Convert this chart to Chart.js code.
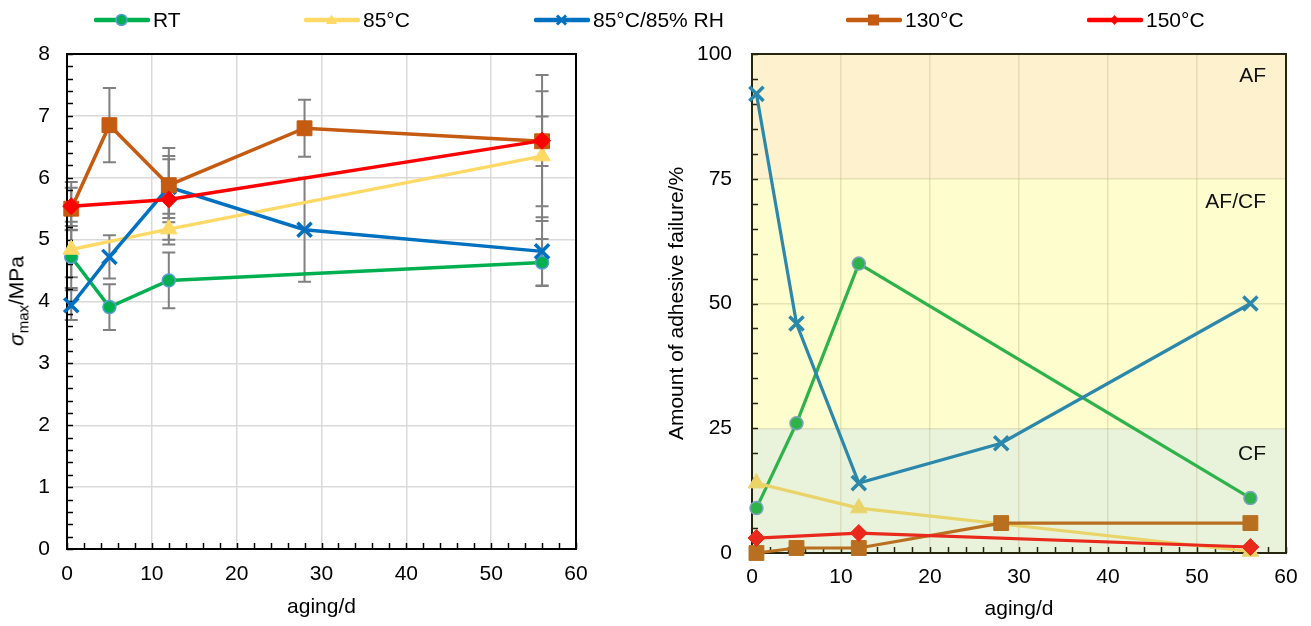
<!DOCTYPE html>
<html><head><meta charset="utf-8">
<script src="https://cdn.jsdelivr.net/npm/chart.js@4/dist/chart.umd.min.js"></script>
<style>
html,body{margin:0;padding:0;background:#fff;width:1311px;height:626px;overflow:hidden;font-family:"Liberation Sans",Arial,sans-serif;}
#wrap{position:relative;width:1311px;height:626px;}
#c1{position:absolute;left:0;top:0;width:655px;height:626px;}
#c2{position:absolute;left:655px;top:0;width:656px;height:626px;}
.leg{position:absolute;top:7px;height:26px;display:flex;align-items:center;font-size:21px;color:#000;white-space:nowrap;}
.leg svg{margin-right:3px;display:block;}
#ytitle1{position:absolute;left:18px;top:301px;transform:translate(-50%,-50%) rotate(-90deg);font-size:21px;white-space:nowrap;color:#000;}
#ytitle1 sub{font-size:15px;}
</style></head>
<body><div id="wrap">
<canvas id="c1" width="655" height="626"></canvas>
<canvas id="c2" width="656" height="626"></canvas>
<div id="ytitle1"><i>σ</i><sub>max</sub>/MPa</div>
</div>
<script>
// ---------- data ----------
const seriesNames = ['RT', '85°C', '85°C/85% RH', '130°C', '150°C'];
const xTicksMax = 60;

// left panel: sigma_max / MPa (with error bars)
const sRT_x   = [0.5, 5, 12, 56];
const sRT_y   = [4.72, 3.91, 4.34, 4.63];
const sRT_err = [0.50, 0.37, 0.45, 0.38];
const s85_x   = [0.5, 12, 56];
const s85_y   = [4.84, 5.17, 6.35];
const s85_err = [0.45, 0.25, 1.05];
const s8585_x   = [0.5, 5, 12, 28, 56];
const s8585_y   = [3.94, 4.72, 5.85, 5.16, 4.81];
const s8585_err = [0.24, 0.35, 0.50, 0.84, 0.55];
const s130_x   = [0.5, 5, 12, 28, 56];
const s130_y   = [5.50, 6.85, 5.88, 6.80, 6.59];
const s130_err = [0.34, 0.60, 0.60, 0.46, 0.40];
const s150_x   = [0.5, 12, 56];
const s150_y   = [5.54, 5.65, 6.60];
const s150_err = [0.39, 0.65, 1.06];

// right panel: amount of adhesive failure / %
const aRT_x   = [0.5, 5, 12, 56];
const aRT_y   = [9, 26, 58, 11];
const a85_x   = [0.5, 12, 56];
const a85_y   = [14, 9, 0.3];
const a8585_x = [0.5, 5, 12, 28, 56];
const a8585_y = [92, 46, 14, 22, 50];
const a130_x  = [0.5, 5, 12, 28, 56];
const a130_y  = [0, 1, 1, 6, 6];
const a150_x  = [0.5, 12, 56];
const a150_y  = [3, 4, 1.2];

// failure-mode bands (value limits) and their labels
const bandLimits = [0, 25, 75, 100];
const bandNames  = ['CF', 'AF/CF', 'AF'];
const bandLabelY = [19.8, 70.3, 95.6];

// ---------- styles ----------
const leftColors  = ['#00B050', '#FFD966', '#0070C0', '#C55A11', '#FF0000'];
const rightColors = ['#2DB34A', '#E9D46A', '#2B88AB', '#B86F1F', '#E8291C'];
const ringLeft = '#5B9BD5', ringRight = '#7FA3BF';
const styles = ['circle', 'triangle', 'crossRot', 'rect', 'rectRot'];
const radii  = [6.5, 9.5, 10, 10.5, 8.5];
const bandColors = ['#E9F3DB', '#FEFDCD', '#FDF1CE'];
const FONT = {family: '"Liberation Sans", Arial, sans-serif', size: 21};

function pts(xs, ys) { return xs.map((x, i) => ({x: x, y: ys[i]})); }

function mk(i, xs, ys, colors, ring, lw, err) {
  const c = colors[i], st = styles[i];
  const ds = {
    label: seriesNames[i], data: pts(xs, ys),
    borderColor: c, backgroundColor: c, borderWidth: lw, tension: 0,
    pointStyle: st, pointRadius: radii[i], pointHoverRadius: radii[i],
    pointBackgroundColor: c,
    pointBorderColor: st === 'circle' ? ring : c,
    pointBorderWidth: st === 'crossRot' ? 3.5 : (st === 'circle' ? 1.5 : 1),
    clip: false, order: 5 - i
  };
  if (err) ds.errorBars = err;
  return ds;
}

const errorBarPlugin = {
  id: 'errorBars',
  beforeDatasetsDraw(chart) {
    const {ctx, scales: {x, y}} = chart;
    ctx.save();
    ctx.strokeStyle = '#808080'; ctx.lineWidth = 2;
    chart.data.datasets.forEach(ds => {
      if (!ds.errorBars) return;
      ds.data.forEach((p, i) => {
        const e = ds.errorBars[i];
        const px = x.getPixelForValue(p.x);
        const t = y.getPixelForValue(p.y + e), b = y.getPixelForValue(p.y - e);
        ctx.beginPath();
        ctx.moveTo(px, t); ctx.lineTo(px, b);
        ctx.moveTo(px - 6.5, t); ctx.lineTo(px + 6.5, t);
        ctx.moveTo(px - 6.5, b); ctx.lineTo(px + 6.5, b);
        ctx.stroke();
      });
    });
    ctx.restore();
  }
};

function framePlugin(color, yMinor, xMinor) {
  return {
    id: 'frame',
    beforeDatasetsDraw(chart) {
      const {ctx, chartArea: a, scales: {x, y}} = chart;
      ctx.save();
      ctx.strokeStyle = color; ctx.lineWidth = 1.5;
      ctx.beginPath();
      for (let v = y.min; v <= y.max + 1e-9; v += yMinor) {
        const py = Math.round(y.getPixelForValue(v)) + 0.5;
        ctx.moveTo(a.left, py); ctx.lineTo(a.left + 6, py);
      }
      for (let v = x.min; v <= x.max + 1e-9; v += xMinor) {
        const px = Math.round(x.getPixelForValue(v)) + 0.5;
        ctx.moveTo(px, a.bottom); ctx.lineTo(px, a.bottom - 6);
      }
      ctx.stroke();
      ctx.lineWidth = 2;
      ctx.strokeRect(a.left, a.top, a.right - a.left, a.bottom - a.top);
      ctx.restore();
    }
  };
}

const bandPlugin = {
  id: 'bands',
  beforeDraw(chart) {
    const {ctx, chartArea: a, scales: {y}} = chart;
    ctx.save();
    for (let i = 0; i < bandNames.length; i++) {
      const t = y.getPixelForValue(bandLimits[i + 1]), b = y.getPixelForValue(bandLimits[i]);
      ctx.fillStyle = bandColors[i];
      ctx.fillRect(a.left, t, a.right - a.left, b - t);
    }
    ctx.restore();
  },
  beforeDatasetsDraw(chart) {
    const {ctx, chartArea: a, scales: {y}} = chart;
    ctx.save();
    ctx.font = '21px "Liberation Sans", Arial, sans-serif';
    ctx.fillStyle = '#111'; ctx.textAlign = 'right'; ctx.textBaseline = 'middle';
    bandNames.forEach((n, i) => ctx.fillText(n, a.right - 20, y.getPixelForValue(bandLabelY[i])));
    ctx.restore();
  }
};

function axisX(tickPad, titlePad, h) {
  return {
    type: 'linear', min: 0, max: xTicksMax,
    ticks: {stepSize: 10, padding: tickPad, font: FONT, color: '#000', maxRotation: 0},
    grid: {drawTicks: false, color: '#d9d9d9', lineWidth: 1.5},
    border: {display: true, color: '#000', width: 2},
    title: {display: true, text: 'aging/d', font: FONT, color: '#000', padding: {top: 0, bottom: titlePad}},
    afterFit(s) { s.height = h; }
  };
}

// ---------- left chart ----------
new Chart(document.getElementById('c1'), {
  type: 'line',
  data: {datasets: [
    mk(0, sRT_x, sRT_y, leftColors, ringLeft, 3.5, sRT_err),
    mk(1, s85_x, s85_y, leftColors, ringLeft, 3.5, s85_err),
    mk(2, s8585_x, s8585_y, leftColors, ringLeft, 3.5, s8585_err),
    mk(3, s130_x, s130_y, leftColors, ringLeft, 3.5, s130_err),
    mk(4, s150_x, s150_y, leftColors, ringLeft, 3.5, s150_err)
  ]},
  options: {
    responsive: false, animation: false,
    layout: {padding: {left: 0, top: 54, right: 79, bottom: 0}},
    plugins: {legend: {display: false}, tooltip: {enabled: false}},
    scales: {
      x: axisX(13, 6, 77),
      y: {
        type: 'linear', min: 0, max: 8,
        ticks: {stepSize: 1, padding: 17, font: FONT, color: '#000'},
        grid: {drawTicks: false, color: '#d9d9d9', lineWidth: 1.5},
        border: {display: true, color: '#000', width: 2},
        afterFit(s) { s.width = 67; }
      }
    }
  },
  plugins: [errorBarPlugin, framePlugin('#000', 0.2, 2)]
});

// ---------- right chart ----------
const xR = axisX(12, 4, 73);
xR.grid = {drawTicks: false, color: 'rgba(190,180,130,0.35)', lineWidth: 1.5};
xR.border = {display: true, color: '#262610', width: 2};
new Chart(document.getElementById('c2'), {
  type: 'line',
  data: {datasets: [
    mk(0, aRT_x, aRT_y, rightColors, ringRight, 3.2),
    mk(1, a85_x, a85_y, rightColors, ringRight, 3.2),
    mk(2, a8585_x, a8585_y, rightColors, ringRight, 3.2),
    mk(3, a130_x, a130_y, rightColors, ringRight, 3.2),
    mk(4, a150_x, a150_y, rightColors, ringRight, 3.2)
  ]},
  options: {
    responsive: false, animation: false,
    layout: {padding: {left: 0, top: 54, right: 25, bottom: 0}},
    plugins: {legend: {display: false}, tooltip: {enabled: false}},
    scales: {
      x: xR,
      y: {
        type: 'linear', min: 0, max: 100,
        ticks: {stepSize: 25, padding: 20, font: FONT, color: '#000'},
        grid: {drawTicks: false, color: 'rgba(190,180,130,0.35)', lineWidth: 1.5},
        border: {display: true, color: '#262610', width: 2},
        title: {display: true, text: 'Amount of adhesive failure/%', font: FONT, color: '#000', padding: {top: 10, bottom: 0}},
        afterFit(s) { s.width = 97; }
      }
    }
  },
  plugins: [bandPlugin, framePlugin('#262610', 5, 2)]
});

// ---------- shared legend (HTML) ----------
const legendLeft = [95, 305, 535, 847, 1088];
function icon(i) {
  const c = leftColors[i];
  let m = '';
  if (i === 0) m = `<circle cx="27.5" cy="8" r="5.5" fill="${c}" stroke="${ringLeft}" stroke-width="1.5"/>`;
  if (i === 1) m = `<polygon points="27.5,2.5 33,12 22,12" fill="${c}"/>`;
  if (i === 2) m = `<path d="M23,3.5 L32,12.5 M32,3.5 L23,12.5" stroke="${c}" stroke-width="3"/>`;
  if (i === 3) m = `<rect x="22" y="2.5" width="11" height="11" fill="${c}"/>`;
  if (i === 4) m = `<polygon points="27.5,3 32,8 27.5,13 23,8" fill="${c}"/>`;
  return `<svg width="56" height="16" viewBox="0 0 56 16"><line x1="2" y1="8" x2="54" y2="8" stroke="${c}" stroke-width="4.5" stroke-linecap="round"/>${m}</svg>`;
}
const wrap = document.getElementById('wrap');
seriesNames.forEach((n, i) => {
  const d = document.createElement('div');
  d.className = 'leg';
  d.style.left = (legendLeft[i] - 1) + 'px';
  d.innerHTML = icon(i) + '<span>' + n + '</span>';
  wrap.appendChild(d);
});
</script>
</body></html>
